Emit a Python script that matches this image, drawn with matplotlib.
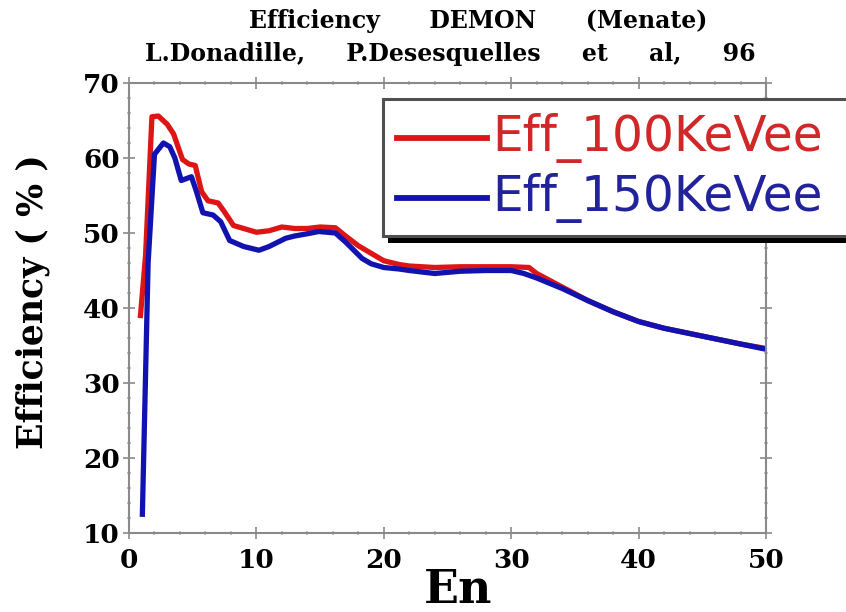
import matplotlib
matplotlib.use("Agg")
import matplotlib.pyplot as plt
from matplotlib.patches import Rectangle
from matplotlib.lines import Line2D
from matplotlib.ticker import MultipleLocator

# Efficiency curves (%) versus neutron energy En
en_100 = [0.9, 1.3, 1.8, 2.3, 3.0, 3.5, 4.2, 4.7, 5.2, 5.7, 6.2, 7.0, 7.5, 8.2,
          9.0, 10.0, 11.0, 12.0, 13.0, 14.0, 15.0, 16.2, 17.0, 18.0, 19.0,
          20.0, 21.2, 22.0, 24.0, 26.0, 28.0, 30.0, 31.4, 32.0, 34.0, 36.0,
          38.0, 40.0, 42.0, 44.0, 46.0, 48.0, 50.0]
eff_100 = [39.0, 47.0, 65.5, 65.6, 64.5, 63.2, 59.8, 59.2, 59.0, 55.5, 54.3,
           54.0, 52.8, 51.0, 50.6, 50.1, 50.3, 50.8, 50.6, 50.6, 50.8, 50.7,
           49.6, 48.3, 47.3, 46.3, 45.8, 45.6, 45.4, 45.5, 45.5, 45.5, 45.4,
           44.6, 42.8, 41.0, 39.5, 38.2, 37.3, 36.6, 35.9, 35.2, 34.6]

en_150 = [1.05, 1.5, 2.0, 2.7, 3.2, 3.6, 4.1, 4.9, 5.3, 5.8, 6.6, 7.2, 7.9,
          9.0, 10.2, 11.0, 12.3, 13.0, 14.0, 14.9, 16.2, 17.0, 18.3, 19.0,
          20.0, 21.2, 22.0, 24.0, 26.0, 28.0, 30.0, 31.0, 32.0, 34.0, 36.0,
          38.0, 40.0, 42.0, 44.0, 46.0, 48.0, 50.0]
eff_150 = [12.5, 46.0, 60.5, 62.0, 61.5, 60.0, 57.0, 57.5, 55.5, 52.7, 52.4,
           51.5, 49.0, 48.2, 47.7, 48.2, 49.3, 49.6, 49.9, 50.2, 50.0, 48.8,
           46.6, 45.9, 45.4, 45.2, 45.0, 44.6, 44.9, 45.0, 45.0, 44.6, 44.0,
           42.6, 41.0, 39.5, 38.2, 37.3, 36.6, 35.9, 35.2, 34.5]

series_labels = ["Eff_100KeVee", "Eff_150KeVee"]
line_colors = ["#dd1515", "#1212b0"]
text_colors = ["#d02828", "#22229a"]

title_lines = ["Efficiency      DEMON      (Menate)",
               "L.Donadille,     P.Desesquelles     et     al,     96"]
x_label = "En"
y_label = "Efficiency ( % )"
x_ticks = [0, 10, 20, 30, 40, 50]
y_ticks = [10, 20, 30, 40, 50, 60, 70]

W, H = 846, 612
fig = plt.figure(figsize=(W / 100, H / 100), dpi=100)
fig.patch.set_facecolor("white")


def fx(px):
    return px / W


def fy(py):
    return 1 - py / H


ax = fig.add_axes([fx(129), fy(533), fx(766) - fx(129), fy(83) - fy(533)])
ax.set_xlim(0, 50)
ax.set_ylim(10, 70)

ax.plot(en_100, eff_100, color=line_colors[0], lw=3.8, solid_joinstyle="round")
ax.plot(en_150, eff_150, color=line_colors[1], lw=3.8, solid_joinstyle="round")

ax.set_xticks(x_ticks)
ax.set_yticks(y_ticks)
ax.xaxis.set_minor_locator(MultipleLocator(2))
ax.yaxis.set_minor_locator(MultipleLocator(2))
serif = {"family": "DejaVu Serif", "weight": "bold"}
ax.set_xticklabels([str(v) for v in x_ticks], fontdict=serif, fontsize=19)
ax.set_yticklabels([str(v) for v in y_ticks], fontdict=serif, fontsize=19)
ax.tick_params(which="both", direction="inout", top=True, right=True,
               width=1.1)
ax.tick_params(which="major", length=9, color="#808080")
ax.tick_params(which="minor", length=3.5, color="#b0b0b0")
ax.tick_params(axis="x", pad=6)
ax.tick_params(axis="y", pad=2)
for sp in ax.spines.values():
    sp.set_color("#8a8a8a")
    sp.set_linewidth(1.5)

# titles and axis labels
fig.text(fx(478), fy(21), title_lines[0], ha="center", va="center",
         fontdict=serif, fontsize=17)
fig.text(fx(450), fy(54), title_lines[1], ha="center", va="center",
         fontdict=serif, fontsize=17)
fig.text(fx(458), fy(590), x_label, ha="center", va="center",
         fontdict=serif, fontsize=33)
fig.text(fx(33), fy(302), y_label, ha="center", va="center", rotation=90,
         fontdict=serif, fontsize=25)

# legend box with drop shadow
box_l, box_t, box_r, box_b = 383, 99, 880, 236
shadow = Rectangle((fx(box_l + 5), fy(box_b + 7)), fx(box_r) - fx(box_l),
                   fy(box_t) - fy(box_b), transform=fig.transFigure,
                   facecolor="black", edgecolor="none", zorder=5)
frame = Rectangle((fx(box_l), fy(box_b)), fx(box_r) - fx(box_l),
                  fy(box_t) - fy(box_b), transform=fig.transFigure,
                  facecolor="white", edgecolor="#505050", lw=2.2, zorder=6)
fig.add_artist(shadow)
fig.add_artist(frame)
rows = [138, 198]
for lab, lc, tc, ry in zip(series_labels, line_colors, text_colors, rows):
    fig.add_artist(Line2D([fx(397), fx(487)], [fy(ry), fy(ry)],
                          transform=fig.transFigure, color=lc, lw=4.2,
                          zorder=7))
    fig.text(fx(492), fy(ry), lab, ha="left", va="center", color=tc,
             family="DejaVu Sans", fontsize=35, zorder=7)

fig.savefig("out.png", dpi=100, facecolor="white")
